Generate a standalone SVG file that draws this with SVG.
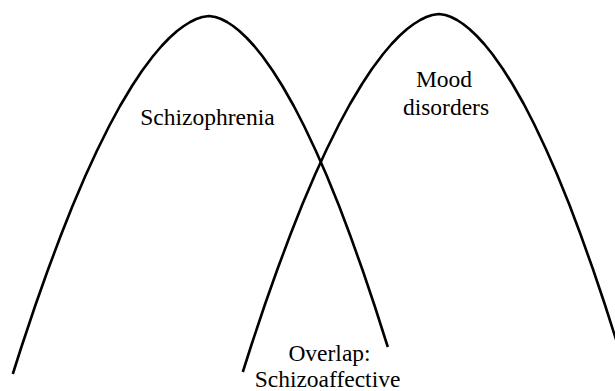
<svg xmlns="http://www.w3.org/2000/svg" width="615" height="391" viewBox="0 0 615 391">
<style>
.curve{fill:none;stroke:#000;stroke-width:2.6;stroke-linejoin:round;stroke-linecap:butt}
.lbl{font-family:"Liberation Serif","Times New Roman",serif;font-size:23.5px;fill:#000;text-anchor:middle}
</style>
<rect width="615" height="391" fill="#fff"/>
<g id="schizophrenia">
<polyline class="curve" points="12.8,374 21.4,347 35.1,306 47.5,271 60.6,236 72.5,206 85.3,176 96.8,151 109.2,126 120,106 132,86 141.9,71 153.1,56 161.6,46 169.3,38 177.1,31 183.8,26 190.2,22 196.3,19 202.3,17 209,16 215.4,17 221.1,19 227,22 233.1,26 239.4,31 246.8,38 254.2,46 262.3,56 272.9,71 282.4,86 293.8,106 304.1,126 315.9,151 326.9,176 339.1,206 350.4,236 362.9,271 374.7,306 387.8,347"/>
<text class="lbl" x="207.5" y="125">Schizophrenia</text>
</g>
<g id="mood-disorders">
<polyline class="curve" points="242.8,372 251.4,345 265.1,304 277.5,269 290.6,234 302.5,204 315.3,174 326.8,149 339.2,124 350,104 362,84 371.9,69 383.1,54 391.6,44 399.3,36 407.1,29 413.8,24 420.2,20 426.3,17 432.3,15 439,14 445.4,15 451.1,17 457,20 463.1,24 469.4,29 476.8,36 484.2,44 492.3,54 502.9,69 512.4,84 523.8,104 534.1,124 545.9,149 556.9,174 569.1,204 580.4,234 592.9,269 604.7,304 617.8,345"/>
<text class="lbl" x="444" y="87">Mood</text>
<text class="lbl" x="446" y="115">disorders</text>
</g>
<g id="overlap">
<text class="lbl" x="329.5" y="361">Overlap:</text>
<text class="lbl" x="327.5" y="387">Schizoaffective</text>
</g>
</svg>
